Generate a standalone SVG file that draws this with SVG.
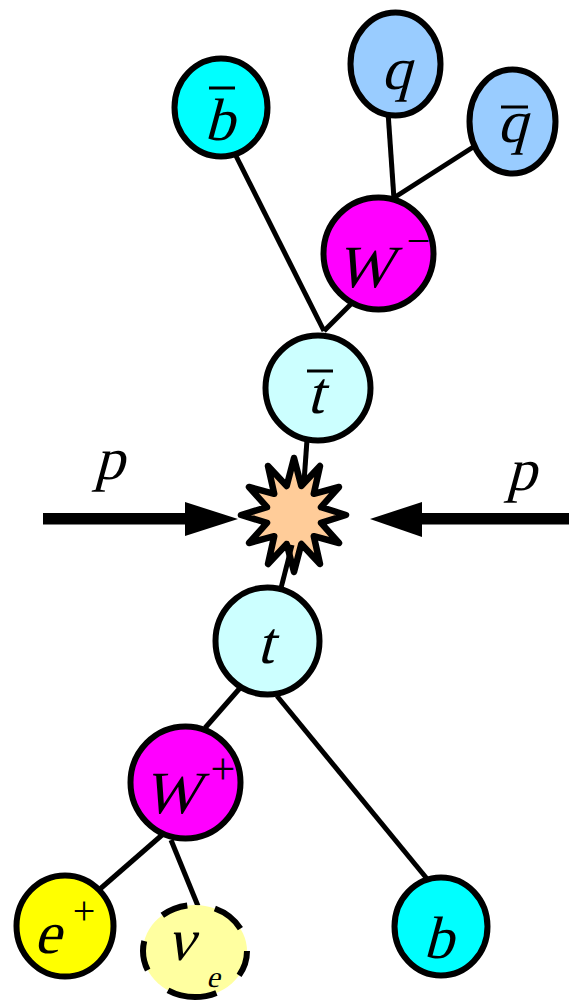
<svg xmlns="http://www.w3.org/2000/svg" width="569" height="1002" viewBox="0 0 569 1002">
<defs>
<style type="text/css">
.n{stroke:#000;stroke-width:6px}
.ov{stroke:#000;stroke-width:3px}
</style>
</defs>
<rect width="569" height="1002" fill="#ffffff"/>
<g id="star">
<polygon stroke="#000" stroke-width="6.5" fill="#FFCC99" stroke-linejoin="round" points="346,515 321,522.8 339,543 313.8,536.2 320,564 301.3,544 294,572 286.7,544 268,564 274.2,536.2 249,543 267,522.8 241,515 267,507.2 249,487 274.2,493.8 268,466 286.7,486 294,458 301.3,486 320,466 313.8,493.8 339,487 321,507.2"/>
</g>
<g id="connectors" stroke="#000" stroke-width="5">
<line x1="232" y1="148" x2="324" y2="331"/>
<line x1="356" y1="299" x2="324" y2="331"/>
<line x1="388" y1="112" x2="394" y2="199"/>
<line x1="478" y1="144" x2="392" y2="199"/>
<line x1="307" y1="440" x2="304" y2="482"/>
<line x1="292" y1="545" x2="280" y2="592"/>
<line x1="240" y1="688" x2="205" y2="728"/>
<line x1="277" y1="696" x2="428" y2="880"/>
<line x1="162" y1="835" x2="100" y2="889"/>
<line x1="171" y1="840" x2="198" y2="906"/>
</g>
<g font-family="'Liberation Serif', serif" font-style="normal" font-size="60" fill="#000" text-anchor="middle">
<g id="arrow-left">
<rect x="43" y="513" width="144" height="11.5" fill="#000"/>
<polygon points="185,502 238,519 185,536" fill="#000"/>
<text transform="translate(109,479) skewX(-15)">p</text>
</g>
<g id="arrow-right">
<rect x="420" y="513" width="149" height="11.5" fill="#000"/>
<polygon points="422,502 370,519 422,537" fill="#000"/>
<text transform="translate(521,490) skewX(-15)">p</text>
</g>
<g id="bbar">
<ellipse class="n" fill="#00FFFF" cx="221" cy="107.5" rx="46.5" ry="49"/>
<text transform="translate(219,140) skewX(-15)">b</text>
<line class="ov" x1="209" y1="88" x2="235" y2="88"/>
</g>
<g id="q">
<ellipse class="n" fill="#99CCFF" cx="395.5" cy="64" rx="45" ry="51.5"/>
<text transform="translate(396,89) skewX(-15)">q</text>
</g>
<g id="qbar">
<ellipse class="n" fill="#99CCFF" cx="512.5" cy="121.5" rx="43" ry="52"/>
<text transform="translate(512,142) skewX(-15)">q</text>
<line class="ov" x1="501" y1="107" x2="528" y2="107"/>
</g>
<g id="Wminus">
<ellipse class="n" fill="#FF00FF" cx="378.5" cy="253.5" rx="55" ry="56"/>
<text transform="translate(364,287) skewX(-15)">W</text>
<text x="418.5" y="255" font-size="42">−</text>
</g>
<g id="tbar">
<circle class="n" fill="#CCFFFF" cx="318" cy="388" r="52.5"/>
<text transform="translate(315,413) skewX(-15)">t</text>
<line class="ov" x1="307" y1="371" x2="333" y2="371"/>
</g>
<g id="t">
<ellipse class="n" fill="#CCFFFF" cx="267.5" cy="641" rx="52" ry="53.5"/>
<text transform="translate(265,663) skewX(-15)">t</text>
</g>
<g id="Wplus">
<ellipse class="n" fill="#FF00FF" cx="185.5" cy="782.5" rx="55" ry="56"/>
<text transform="translate(171,813) skewX(-15)">W</text>
<text x="223" y="784" font-size="44">+</text>
</g>
<g id="eplus">
<ellipse class="n" fill="#FFFF00" cx="65" cy="926" rx="48.5" ry="50.5"/>
<text transform="translate(47,953) skewX(-15)">e</text>
<text x="84" y="924" font-size="40">+</text>
</g>
<g id="nue">
<ellipse class="n" fill="#FFFFA0" stroke-dasharray="26 29 50 29 30 32 27 28 33 26" cx="195" cy="951" rx="52" ry="46"/>
<text transform="translate(180,960) skewX(-15)">ν</text>
<text transform="translate(213,987) skewX(-15)" font-size="30">e</text>
</g>
<g id="b">
<ellipse class="n" fill="#00FFFF" cx="441" cy="926.5" rx="46.5" ry="49"/>
<text transform="translate(438,958) skewX(-15)">b</text>
</g>
</g>
</svg>
